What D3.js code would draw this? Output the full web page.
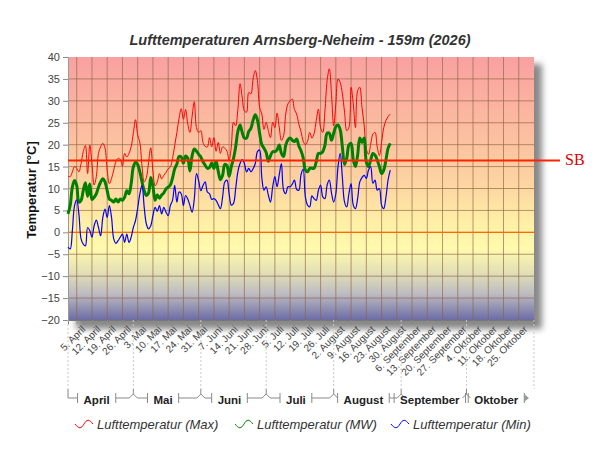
<!DOCTYPE html>
<html>
<head>
<meta charset="utf-8">
<script src="https://cdn.jsdelivr.net/npm/d3@7"></script>
<style>
  body { margin: 0; background: #fff; }
  svg { display: block; font-family: "Liberation Sans", Arial, sans-serif; }
</style>
</head>
<body>
<div id="chart"></div>
<script>
var svgWidth = 600;
var svgHeight = 450;

// daily values from 1 April 2026
var startDate = Date.UTC(2026, 3, 1);

var maxTemps = [12.8, 12.7, 13.8, 15, 14.6, 13.8, 15.7, 18.4, 19.8, 13.4,
  19.9, 15.7, 10.8, 12.7, 18, 19.5, 20.3, 19.2, 14.2, 11.1,
  12.3, 14.2, 16.1, 16.9, 16.6, 15.1, 18, 17.2, 18, 19.5,
  22.6, 25.7, 22.2, 20.5, 15, 11.5, 12.5, 16, 19.3, 14,
  10.6, 11.5, 13.4, 12.2, 13, 13.7, 14.5, 14.9, 16.8, 19.8,
  22.8, 26, 28.2, 25.8, 28, 24.7, 22.8, 26.5, 29.8, 23.9,
  22.8, 23.2, 20.5, 19.6, 19.5, 21.6, 19.5, 21.6, 18.5, 20.5,
  18, 19.5, 19.2, 18.5, 16.5, 19.5, 25.1, 24.3, 28, 33.9,
  30.8, 27.7, 27.4, 31.9, 31.6, 35, 36.9, 34.6, 28.5, 27,
  23.5, 25.1, 23.2, 21.6, 25.1, 23.9, 27.2, 24, 21, 22,
  27, 29.3, 30, 30.4, 28, 27, 24.7, 23, 20.8, 20,
  20.8, 22.8, 21.5, 22.5, 25.5, 28.1, 23.9, 22.8, 27.7, 34.6,
  37.3, 31.6, 24.3, 29.3, 35, 34.2, 31.6, 27.4, 23.2, 23.9,
  33.1, 29.3, 23.9, 32.3, 33.1, 28.5, 24.5, 19, 17.8, 20.1,
  22.4, 22.8, 19.5, 17.5, 20.5, 23.9, 25.5, 26.4, 27];

var meanTemps = [4.2, 6.1, 10.3, 11.8, 10.7, 6.9, 7.3, 9.5, 11.3, 8.2,
  11, 7.5, 8, 8.8, 10.3, 11.5, 12.2, 11.5, 9.5, 7.6,
  7.3, 6.9, 7.6, 6.9, 7.6, 7.3, 8, 9.5, 8.8, 11.1,
  14.9, 16, 15.5, 13.8, 11.5, 9.5, 8.4, 9, 12.5, 10.5,
  7.3, 8.5, 7.8, 8.5, 9, 9.9, 10.3, 10.8, 12.4, 14.5,
  15.6, 17.3, 17.2, 15.8, 17.4, 16.9, 14, 17.5, 19, 18.5,
  17.8, 17.2, 16.1, 15.3, 14.6, 14.8, 15.8, 14.6, 16.2, 13.9,
  12, 13, 15.5, 15.2, 12.8, 15, 16.8, 19.5, 23, 24.5,
  22.8, 21.5, 21.5, 23, 23.7, 25.6, 26.8, 25.6, 22.6, 20,
  19.2, 18.2, 16.2, 17.5, 18.4, 18.4, 18.8, 19.9, 18, 17.3,
  19.9, 21.1, 21.5, 21, 20.7, 21.3, 19.7, 18.6, 17, 14.2,
  13.8, 14.6, 14.6, 14.6, 16.1, 18, 18, 18.4, 19.9, 22.6,
  22.6, 21, 22.6, 24.1, 24.5, 23.4, 19.5, 15.5, 16.9, 19.9,
  20.3, 16.5, 15, 17.6, 21.5, 20.5, 21.5, 16, 15, 16.5,
  18, 17.6, 16.5, 15, 13.4, 14.2, 16.5, 19.2, 20.3];

var minTemps = [-3.4, -3.8, 0.4, 6.1, 7.4, 4.2, -1.5, -2.7, -3.1, 1.1,
  0.4, -1.1, 1.5, 2.8, 1.1, -0.8, 3.4, 5.3, 3.4, 6.1,
  3.4, -1.5, -2.5, -1.9, -1.1, -0.4, -2.3, -0.4, -2.3, -1.1,
  1.1, 2.7, 5.5, 8.8, 10.7, 5.7, 1.9, 0.8, 1.5, 3.8,
  5.7, 4.8, 6.1, 4.2, 5.7, 4.6, 3.8, 6.1, 7.3, 10.7,
  6.9, 9.2, 8.8, 6.1, 8.4, 7.6, 6.1, 4.6, 7.6, 13.4,
  11.8, 9.5, 10.7, 11.5, 9.2, 8.8, 7.5, 7.7, 7.3, 6.3,
  5.4, 8.1, 11.5, 11.9, 8.8, 6.2, 6.6, 10, 13.8, 15.7,
  16.6, 15.7, 13.8, 14.6, 13.8, 14.5, 15.7, 18.4, 18.8, 12.5,
  9.6, 10.4, 8.5, 6.9, 10.4, 12.7, 10.4, 13.1, 15.7, 9.6,
  8.8, 10.4, 10.4, 11, 11.9, 9.8, 9.6, 13.1, 14.4, 8.1,
  6.2, 5.8, 8.3, 7.7, 7.3, 9.6, 10.8, 8.1, 7.7, 10.8,
  11.9, 9, 6.9, 8.8, 15, 18, 12.5, 6.9, 5.8, 8.8,
  11.1, 6.2, 5.4, 7.7, 11.5, 12.5, 13, 12.3, 14.2, 15,
  11.2, 11.9, 9.6, 10, 6.2, 5.4, 8, 12, 14.2];

var yTicks = [-20, -15, -10, -5, 0, 5, 10, 15, 20, 25, 30, 35, 40];
var monthNames = ["Januar", "Februar", "März", "April", "Mai", "Juni", "Juli",
  "August", "September", "Oktober", "November", "Dezember"];
var sbValue = 16.4;

var seriesNames = ["Lufttemperatur (Max)", "Lufttemperatur (MW)", "Lufttemperatur (Min)"];
var seriesColors = ["#ff0000", "#008000", "#0000ff"];

var plot = { left: 68, right: 534, top: 57, bottom: 320 };
var day = 24 * 3600 * 1000;

var svg = d3.select("#chart")
  .append("svg")
  .attr("width", svgWidth)
  .attr("height", svgHeight);

var defs = svg.append("defs");

var grad = defs.append("linearGradient")
  .attr("id", "bg")
  .attr("x1", 0).attr("y1", 0).attr("x2", 0).attr("y2", 1);
[[0, "#f9a0a0"], [0.3, "#fcbfa0"], [0.5, "#fdd7a2"], [0.63, "#fff0a6"],
 [0.73, "#fffaae"], [0.82, "#e2dfb6"], [0.9, "#bdbcc2"], [1, "#6c6ca6"]]
  .forEach(function (s) {
    grad.append("stop").attr("offset", s[0]).attr("stop-color", s[1]);
  });

var blur = defs.append("filter").attr("id", "shadow")
  .attr("x", "-10%").attr("y", "-10%").attr("width", "130%").attr("height", "130%");
blur.append("feGaussianBlur").attr("stdDeviation", 3);

var x = d3.scaleUtc()
  .domain([new Date(startDate), new Date(Date.UTC(2026, 10, 1))])
  .range([plot.left, plot.right]);

var y = d3.scaleLinear()
  .domain([-20, 40])
  .range([plot.bottom, plot.top]);

// title
svg.append("text")
  .attr("x", 300)
  .attr("y", 45)
  .attr("text-anchor", "middle")
  .style("font-size", "14.5px")
  .style("font-weight", "bold")
  .style("font-style", "italic")
  .attr("fill", "#333")
  .text("Lufttemperaturen Arnsberg-Neheim - 159m (2026)");

// shadow + background
svg.append("rect")
  .attr("x", plot.left + 8)
  .attr("y", plot.top + 7)
  .attr("width", plot.right - plot.left)
  .attr("height", plot.bottom - plot.top + 2)
  .attr("fill", "#888")
  .attr("filter", "url(#shadow)");

svg.append("rect")
  .attr("x", plot.left)
  .attr("y", plot.top)
  .attr("width", plot.right - plot.left)
  .attr("height", plot.bottom - plot.top)
  .attr("fill", "url(#bg)");

// weekly ticks (Sundays)
var weekTicks = d3.utcSunday.range(new Date(startDate), new Date(Date.UTC(2026, 10, 1)));
var monthStarts = d3.utcMonth.range(new Date(startDate), new Date(Date.UTC(2026, 10, 2)));

var grid = svg.append("g").attr("stroke", "#8f6244").attr("stroke-opacity", 0.65);
grid.selectAll(".vg")
  .data(weekTicks)
  .enter()
  .append("line")
  .attr("x1", d => x(d)).attr("x2", d => x(d))
  .attr("y1", plot.top).attr("y2", plot.bottom);
grid.selectAll(".hg")
  .data(yTicks.slice(1, -1))
  .enter()
  .append("line")
  .attr("x1", plot.left).attr("x2", plot.right)
  .attr("y1", d => y(d)).attr("y2", d => y(d));

// zero line
svg.append("line")
  .attr("x1", plot.left).attr("x2", plot.right)
  .attr("y1", y(0)).attr("y2", y(0))
  .attr("stroke", "#ff6a00")
  .attr("stroke-width", 1.2);

// y axis
var leftAxis = d3.axisLeft(y).tickValues(yTicks).tickSize(5).tickPadding(3);
var yAxis = svg.append("g")
  .attr("transform", `translate(${plot.left},0)`)
  .call(leftAxis);
yAxis.select(".domain").attr("stroke", "#999");
yAxis.selectAll(".tick line").attr("stroke", "#888");
yAxis.selectAll("text").attr("fill", "#444").style("font-size", "11px");

svg.append("text")
  .attr("transform", "translate(36,190) rotate(-90)")
  .attr("text-anchor", "middle")
  .style("font-size", "13px")
  .style("font-weight", "bold")
  .attr("fill", "#111")
  .text("Temperatur [°C]");

// x axis with rotated week labels
var bottomAxis = d3.axisBottom(x)
  .tickValues(weekTicks)
  .tickSize(4)
  .tickFormat(d => d.getUTCDate() + ". " + monthNames[d.getUTCMonth()]);
var xAxis = svg.append("g")
  .attr("transform", `translate(0,${plot.bottom})`)
  .call(bottomAxis);
xAxis.select(".domain").attr("stroke", "#777");
xAxis.selectAll(".tick line").attr("stroke", "#888");
xAxis.selectAll("text")
  .attr("fill", "#444")
  .style("font-size", "10px")
  .attr("text-anchor", "end")
  .attr("dy", 0)
  .attr("transform", "translate(4,5) rotate(-45)");

// month separators
svg.append("g")
  .selectAll("line")
  .data(monthStarts)
  .enter()
  .append("line")
  .attr("x1", d => x(d)).attr("x2", d => x(d))
  .attr("y1", plot.bottom).attr("y2", 389)
  .attr("stroke", "#c8c8c8")
  .attr("stroke-dasharray", "2,2");

// month brackets
var bracketY = 398;
var brackets = svg.append("g").attr("stroke", "#888").attr("fill", "none");
var monthLabels = svg.append("g");
for (var i = 0; i < monthStarts.length - 1; i++) {
  var m0 = x(monthStarts[i]);
  var m1 = x(monthStarts[i + 1]);
  var cx = (m0 + m1) / 2 - 4;
  var label = monthLabels.append("text")
    .attr("x", cx)
    .attr("y", bracketY + 6)
    .attr("text-anchor", "middle")
    .style("font-size", "11.5px")
    .style("font-weight", "bold")
    .attr("fill", "#222")
    .text(monthNames[monthStarts[i].getUTCMonth()]);
  var w = label.node().getComputedTextLength();
  var l0 = cx - w / 2 - 6;
  var l1 = cx + w / 2 + 6;
  var left0 = i === 0 ? m0 : m0 + 4;
  var right1 = i === monthStarts.length - 2 ? m1 - 10 : m1 - 4;
  if (l0 > left0) {
    brackets.append("line").attr("x1", left0).attr("x2", l0).attr("y1", bracketY).attr("y2", bracketY);
  }
  brackets.append("line").attr("x1", l0).attr("x2", l0).attr("y1", bracketY - 5).attr("y2", bracketY + 5);
  brackets.append("line").attr("x1", l1).attr("x2", l1).attr("y1", bracketY - 5).attr("y2", bracketY + 5);
  if (right1 > l1) {
    brackets.append("line").attr("x1", l1).attr("x2", right1).attr("y1", bracketY).attr("y2", bracketY);
  }
}
monthStarts.slice(0, -1).forEach(function (d, i) {
  var bx = x(d);
  if (i === 0) {
    brackets.append("path").attr("d", `M${bx},389V${bracketY}`);
  } else {
    brackets.append("path")
      .attr("d", `M${bx},389V${bracketY - 4}M${bx - 4},${bracketY}L${bx},${bracketY - 4}L${bx + 4},${bracketY}`);
  }
});
var endX = x(monthStarts[monthStarts.length - 1]) - 10;
svg.append("path")
  .attr("d", `M${endX},${bracketY - 4}L${endX + 5},${bracketY}L${endX},${bracketY + 4}Z`)
  .attr("fill", "#999");

// data lines
var series = [maxTemps, meanTemps, minTemps];
var widths = [1, 3, 1.2];
var line = d3.line()
  .x((d, i) => x(new Date(startDate + i * day)))
  .y(d => y(d))
  .curve(d3.curveCatmullRom);

series.forEach(function (vals, k) {
  svg.append("path")
    .datum(vals)
    .attr("fill", "none")
    .attr("stroke", seriesColors[k])
    .attr("stroke-width", widths[k])
    .attr("stroke-linejoin", "round")
    .attr("d", line);
});

// SB reference line
svg.append("line")
  .attr("x1", plot.left).attr("x2", 560)
  .attr("y1", y(sbValue)).attr("y2", y(sbValue))
  .attr("stroke", "#ff2200")
  .attr("stroke-width", 2);
svg.append("text")
  .attr("x", 565)
  .attr("y", y(sbValue) + 5)
  .style("font-family", "'Liberation Serif', 'DejaVu Serif', serif")
  .style("font-size", "16px")
  .attr("fill", "#dd0000")
  .text("SB");

// legend
var legendX = [75, 235, 391];
var legend = svg.append("g");
seriesNames.forEach(function (name, k) {
  var lx = legendX[k];
  legend.append("path")
    .attr("d", `M${lx},424 C${lx + 4},429 ${lx + 6},429 ${lx + 9},424 S${lx + 14},419 ${lx + 18},424`)
    .attr("fill", "none")
    .attr("stroke", seriesColors[k])
    .attr("stroke-width", 1);
  legend.append("text")
    .attr("x", lx + 22)
    .attr("y", 429)
    .style("font-size", "13px")
    .style("font-style", "italic")
    .attr("fill", "#333")
    .text(name);
});
</script>
</body>
</html>
